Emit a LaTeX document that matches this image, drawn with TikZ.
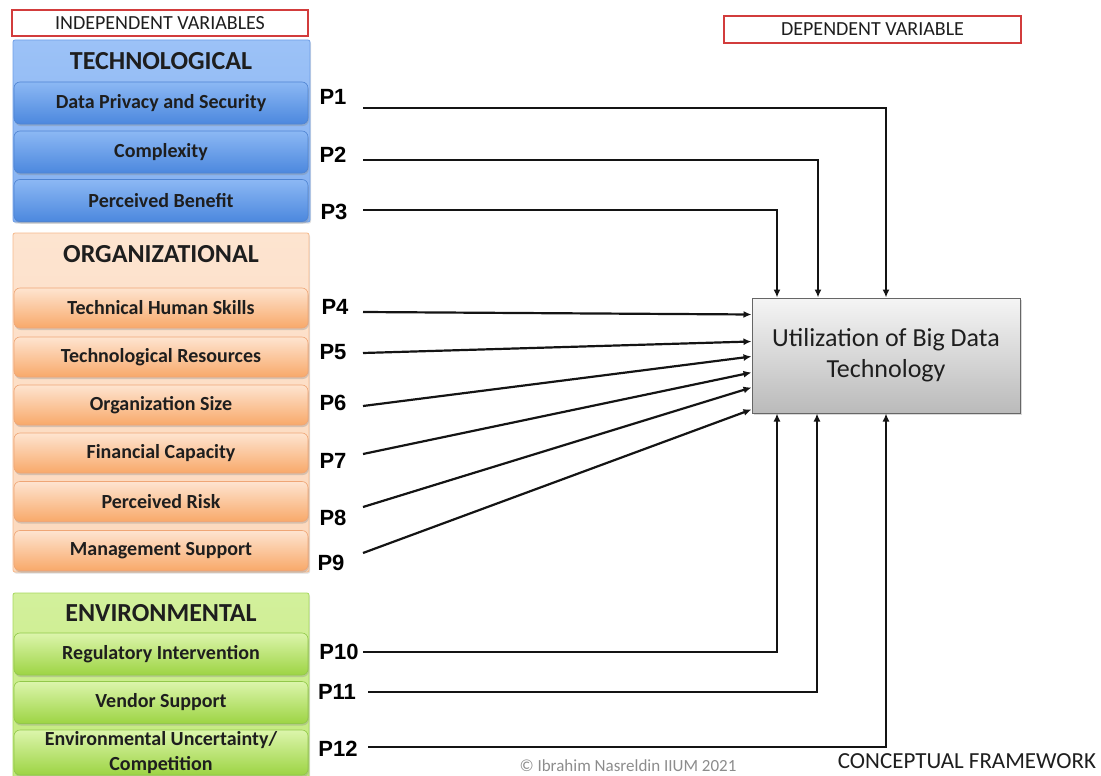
\documentclass[tikz,border=0pt]{standalone}
\usepackage{fontspec}
\setmainfont{Carlito}
\newfontfamily\pfont{Liberation Sans}
\usetikzlibrary{shadows,calc,arrows.meta}
\definecolor{bgT}{HTML}{9CC2F7}
\definecolor{bgB}{HTML}{84B0F0}
\definecolor{bD}{HTML}{6E9EE6}
\definecolor{biT}{HTML}{8CB8F4}
\definecolor{biB}{HTML}{4C88DE}
\definecolor{biD}{HTML}{4F84D2}
\definecolor{ogT}{HTML}{FDE4D0}
\definecolor{ogB}{HTML}{FCD8BC}
\definecolor{oD}{HTML}{F5B98C}
\definecolor{oiT}{HTML}{FEE4D0}
\definecolor{oiB}{HTML}{F8A96A}
\definecolor{oiD}{HTML}{EFA676}
\definecolor{ggT}{HTML}{D3F09C}
\definecolor{ggB}{HTML}{C2E97C}
\definecolor{gD}{HTML}{A6D85E}
\definecolor{giT}{HTML}{DCF5AC}
\definecolor{giB}{HTML}{9DD444}
\definecolor{giD}{HTML}{92C84A}
\definecolor{redb}{HTML}{D23C3C}
\definecolor{txt}{HTML}{1E1E1E}
\begin{document}
\begin{tikzpicture}[x=1pt,y=-1pt,
  grp/.style={rectangle, rounded corners=2pt, inner sep=0pt, line width=0.8pt,
    drop shadow={opacity=0.25,shadow xshift=1pt,shadow yshift=-1.5pt}},
  grpblue/.style={grp, top color=bgT, bottom color=bgB, draw=bD},
  grporange/.style={grp, top color=ogT, bottom color=ogB, draw=oD},
  grpgreen/.style={grp, top color=ggT, bottom color=ggB, draw=gD},
  item/.style={rectangle, rounded corners=6pt, inner sep=0pt, minimum width=294pt,
    line width=0.6pt, text=txt, font=\fontsize{20}{25}\selectfont\bfseries, align=center,
    drop shadow={opacity=0.3,shadow xshift=0.8pt,shadow yshift=-2pt}},
  itemb/.style={item, top color=biT, bottom color=biB, draw=biD, minimum height=42pt},
  itemo/.style={item, top color=oiT, bottom color=oiB, draw=oiD, minimum height=40pt},
  itemg/.style={item, top color=giT, bottom color=giB, draw=giD, minimum height=42pt},
  hdr/.style={inner sep=0pt, text=txt, font=\fontsize{26}{30}\selectfont\bfseries},
  plab/.style={inner sep=0pt, text=black, font=\pfont\fontsize{22}{26}\selectfont\bfseries},
  redbox/.style={rectangle, draw=redb, line width=1.6pt, fill=white, inner sep=0pt,
    text=txt, font=\fontsize{20}{22}\selectfont},
  mainbox/.style={rectangle, inner sep=0pt, minimum width=268pt, minimum height=115pt,
    top color=black!4, bottom color=black!27, draw=black!60, line width=1pt,
    text=txt, align=center, font=\fontsize{26}{31}\selectfont,
    drop shadow={opacity=0.3,shadow xshift=1.5pt,shadow yshift=-2pt}},
  conn/.style={line width=2.2pt, draw=black!92, -{Latex[length=8pt,width=7pt]}}
]
\useasboundingbox (0,0) rectangle (1101,776);

% header boxes
\node[redbox, minimum width=296pt, minimum height=26pt] (indep) at (160,23) {INDEPENDENT VARIABLES};
\node[redbox, minimum width=297pt, minimum height=27pt] (dep) at (872.5,29.5) {DEPENDENT VARIABLE};

% technological group
\node[grpblue, minimum width=297pt, minimum height=182pt] (gtech) at (161.5,131) {};
\node[hdr] (htech) at (161,61) {TECHNOLOGICAL};
\node[itemb] (t1) at (161,103) {Data Privacy and Security};
\node[itemb] (t2) at (161,152) {Complexity};
\node[itemb] (t3) at (161,200.5) {Perceived Benefit};

% organizational group
\node[grporange, minimum width=296pt, minimum height=339pt] (gorg) at (161,402.5) {};
\node[hdr] (horg) at (161,254) {ORGANIZATIONAL};
\node[itemo] (o1) at (161,308) {Technical Human Skills};
\node[itemo] (o2) at (161,357) {Technological Resources};
\node[itemo] (o3) at (161,405) {Organization Size};
\node[itemo] (o4) at (161,453) {Financial Capacity};
\node[itemo] (o5) at (161,501.5) {Perceived Risk};
\node[itemo] (o6) at (161,550.5) {Management Support};

% environmental group
\node[grpgreen, minimum width=296pt, minimum height=186pt] (genv) at (161,686) {};
\node[hdr] (henv) at (161,613) {ENVIRONMENTAL};
\node[itemg] (e1) at (161,654) {Regulatory Intervention};
\node[itemg] (e2) at (161,702.5) {Vendor Support};
\node[itemg, minimum height=45pt] (e3) at (161,752.5) {Environmental Uncertainty/\\Competition};

% dependent variable
\node[mainbox] (main) at (886,355.5) {Utilization of Big Data\\Technology};

% P labels
\node[plab] (p1) at (333,97) {P1};
\node[plab] (p2) at (333,155) {P2};
\node[plab] (p3) at (334,212) {P3};
\node[plab] (p4) at (335,307) {P4};
\node[plab] (p5) at (333,352) {P5};
\node[plab] (p6) at (333,403) {P6};
\node[plab] (p7) at (333,461) {P7};
\node[plab] (p8) at (333,518) {P8};
\node[plab] (p9) at (331,563) {P9};
\node[plab] (p10) at (339,652) {P10};
\node[plab] (p11) at (337,692) {P11};
\node[plab] (p12) at (338,749) {P12};

% line starts
\coordinate (s1) at (363,108);
\coordinate (s2) at (363,160);
\coordinate (s3) at (363,210);
\coordinate (s4) at (363,312);
\coordinate (s5) at (363,353);
\coordinate (s6) at (363,406);
\coordinate (s7) at (363,454);
\coordinate (s8) at (363,507);
\coordinate (s9) at (363,553);
\coordinate (s10) at (363,652);
\coordinate (s11) at (368,692);
\coordinate (s12) at (368,747);

% connectors
\draw[conn] (s1) -| (main.north);
\draw[conn] (s2) -| ($(main.north)+(-68,0)$);
\draw[conn] (s3) -| ($(main.north)+(-109,0)$);
\draw[conn] (s4) -- ($(main.north west)+(0,17)$);
\draw[conn] (s5) -- ($(main.north west)+(0,44)$);
\draw[conn] (s6) -- ($(main.north west)+(0,59)$);
\draw[conn] (s7) -- ($(main.north west)+(0,75)$);
\draw[conn] (s8) -- ($(main.north west)+(0,90)$);
\draw[conn] (s9) -- ($(main.north west)+(0,112)$);
\draw[conn] (s10) -| ($(main.south)+(-109,0)$);
\draw[conn] (s11) -| ($(main.south)+(-69,0)$);
\draw[conn] (s12) -| (main.south);

% footer
\node[inner sep=0pt, text=black!45, font=\fontsize{17}{20}\selectfont] (copy) at (628,766) {© Ibrahim Nasreldin IIUM 2021};
\node[inner sep=0pt, text=txt, font=\fontsize{23}{26}\selectfont] (cf) at (967,761) {CONCEPTUAL FRAMEWORK};
\end{tikzpicture}
\end{document}
